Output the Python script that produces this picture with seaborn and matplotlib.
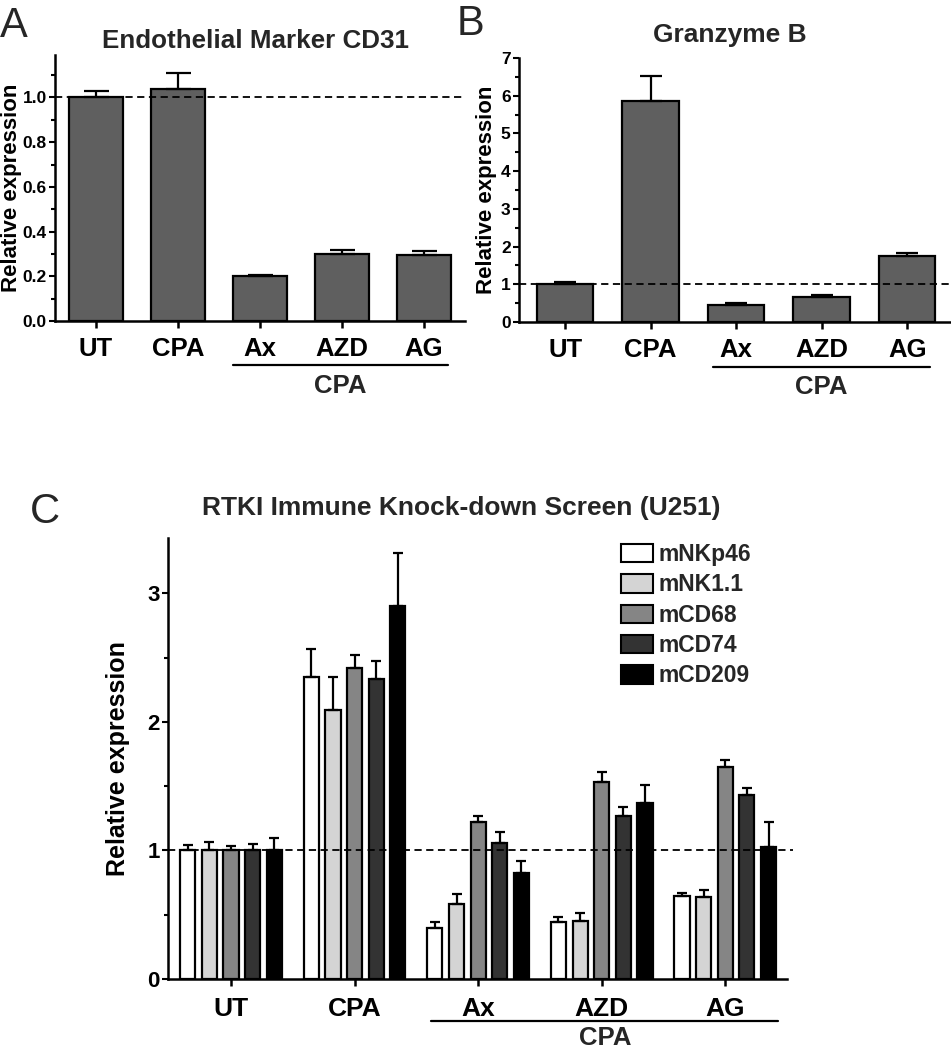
import numpy as np
import pandas as pd
import matplotlib
matplotlib.use('Agg')
import matplotlib.pyplot as plt
import seaborn as sns
from matplotlib.ticker import MultipleLocator, FormatStrFormatter
from matplotlib.patches import Patch
from matplotlib.transforms import blended_transform_factory

GROUPS = ['UT', 'CPA', 'Ax', 'AZD', 'AG']

# A) Endothelial marker CD31
CD31_MEAN = [1.00, 1.04, 0.20, 0.30, 0.295]
CD31_ERR = [0.03, 0.07, 0.005, 0.017, 0.02]

# B) Granzyme B
GZMB_MEAN = [1.00, 5.87, 0.45, 0.66, 1.74]
GZMB_ERR = [0.07, 0.65, 0.06, 0.07, 0.10]

# C) RTKI immune knock-down screen
MARKERS = ['mNKp46', 'mNK1.1', 'mCD68', 'mCD74', 'mCD209']
MNKP46 = [1.00, 2.35, 0.40, 0.44, 0.645]
MNKP46_ERR = [0.045, 0.22, 0.04, 0.045, 0.025]
MNK11 = [1.00, 2.09, 0.58, 0.45, 0.64]
MNK11_ERR = [0.065, 0.26, 0.08, 0.06, 0.05]
MCD68 = [1.00, 2.42, 1.22, 1.53, 1.65]
MCD68_ERR = [0.035, 0.10, 0.05, 0.08, 0.05]
MCD74 = [1.00, 2.33, 1.06, 1.27, 1.43]
MCD74_ERR = [0.05, 0.14, 0.08, 0.07, 0.055]
MCD209 = [1.00, 2.90, 0.825, 1.37, 1.03]
MCD209_ERR = [0.10, 0.41, 0.09, 0.14, 0.19]

BAR_GREY = '#5f5f5f'
MARKER_COLORS = ['#ffffff', '#d4d4d4', '#858585', '#333333', '#000000']

sns.set_theme(style='ticks')
plt.rcParams['font.family'] = ['Liberation Sans', 'DejaVu Sans']
plt.rcParams['font.weight'] = 'bold'

fig = plt.figure(figsize=(9.51, 10.5), dpi=100)
axA = fig.add_axes([0.0578, 0.6943, 0.4311, 0.2533])
axB = fig.add_axes([0.5457, 0.6933, 0.4532, 0.2514])
axC = fig.add_axes([0.1767, 0.0676, 0.6509, 0.4200])


def style_axis(ax, xtick_size, ytick_size, xpad):
    sns.despine(ax=ax)
    for s in ['left', 'bottom']:
        ax.spines[s].set_linewidth(1.8)
        ax.spines[s].set_color('black')
    ax.set_xlabel('')
    ax.tick_params(axis='x', labelsize=xtick_size, length=5, width=1.8, pad=xpad, colors='black')
    ax.tick_params(axis='y', which='major', labelsize=ytick_size, length=4.5, width=1.5, pad=1.5, colors='black')
    ax.tick_params(axis='y', which='minor', length=3, width=1.5, colors='black')
    for lab in ax.get_xticklabels() + ax.get_yticklabels():
        lab.set_fontweight('bold')


def add_cpa_bracket(ax, x0, x1, y_line, y_text, size):
    tr = blended_transform_factory(ax.transData, ax.transAxes)
    ax.plot([x0, x1], [y_line, y_line], transform=tr, clip_on=False, color='black', lw=1.6)
    ax.text((x0 + x1) / 2, y_text, 'CPA', transform=tr, ha='center', va='center',
            fontsize=size, fontweight='bold')


def single_panel(ax, means, errs, title, ymax, major, minor, capsize, title_y, title_size):
    df = pd.DataFrame({'Group': GROUPS, 'Value': means})
    sns.barplot(data=df, x='Group', y='Value', color=BAR_GREY, saturation=1, width=0.66,
                edgecolor='black', linewidth=1.6, errorbar=None, ax=ax)
    bars = ax.containers[0]
    xs = [b.get_x() + b.get_width() / 2 for b in bars]
    hs = [b.get_height() for b in bars]
    ax.errorbar(xs, hs, yerr=[np.zeros(len(errs)), errs], fmt='none', ecolor='black',
                elinewidth=1.6, capsize=capsize, capthick=1.6, zorder=4)
    ax.axhline(1, color='black', ls=(0, (4, 2.5)), lw=1.3, zorder=5)
    ax.set_xlim(-0.5, 4.5)
    ax.set_ylim(0, ymax)
    ax.yaxis.set_major_locator(MultipleLocator(major))
    ax.yaxis.set_minor_locator(MultipleLocator(minor))
    style_axis(ax, 18.5, 12.5, 6.5)
    ax.set_ylabel('Relative expression', fontsize=16, fontweight='bold', color='black')
    ax.text(0.49, title_y, title, transform=ax.transAxes, ha='center', va='center',
            fontsize=title_size, fontweight='bold')


# A
single_panel(axA, CD31_MEAN, CD31_ERR, 'Endothelial Marker CD31', 1.19, 0.2, 0.1, 9, 1.052, 18.7)
axA.yaxis.set_major_formatter(FormatStrFormatter('%.1f'))
axA.yaxis.set_label_coords(-0.08, 0.5)
add_cpa_bracket(axA, 1.67, 4.29, -0.165, -0.243, 18.5)

# B
single_panel(axB, GZMB_MEAN, GZMB_ERR, 'Granzyme B', 7, 1, 0.5, 8, 1.088, 19)
axB.set_xlim(-0.54, 4.5)
axB.yaxis.set_label_coords(-0.05, 0.5)
add_cpa_bracket(axB, 1.73, 4.27, -0.17, -0.248, 18.5)

# C
screen_vals = [MNKP46, MNK11, MCD68, MCD74, MCD209]
screen_errs = [MNKP46_ERR, MNK11_ERR, MCD68_ERR, MCD74_ERR, MCD209_ERR]
rows = []
for m, vals in zip(MARKERS, screen_vals):
    for g, v in zip(GROUPS, vals):
        rows.append({'Group': g, 'Marker': m, 'Value': v})
dfC = pd.DataFrame(rows)
sns.barplot(data=dfC, x='Group', y='Value', hue='Marker', palette=MARKER_COLORS, saturation=1,
            width=0.875, gap=0.3, edgecolor='black', linewidth=1.6, errorbar=None,
            legend=False, ax=axC)
for cont, errs in zip(axC.containers, screen_errs):
    xs = [b.get_x() + b.get_width() / 2 for b in cont]
    hs = [b.get_height() for b in cont]
    axC.errorbar(xs, hs, yerr=[np.zeros(len(errs)), errs], fmt='none', ecolor='black',
                 elinewidth=1.6, capsize=3.6, capthick=1.6, zorder=4)
axC.axhline(1, xmax=1.01, color='black', ls=(0, (4, 2.5)), lw=1.3, zorder=5, clip_on=False)
axC.set_xlim(-0.51, 4.5)
axC.set_ylim(0, 3.43)
axC.yaxis.set_major_locator(MultipleLocator(1))
axC.yaxis.set_minor_locator(MultipleLocator(0.5))
style_axis(axC, 19, 16, 8)
axC.set_ylabel('Relative expression', fontsize=18, fontweight='bold', color='black')
axC.yaxis.set_label_coords(-0.061, 0.5)
axC.text(0.473, 1.068, 'RTKI Immune Knock-down Screen (U251)', transform=axC.transAxes,
         ha='center', va='center', fontsize=19, fontweight='bold')
add_cpa_bracket(axC, 1.62, 4.43, -0.095, -0.134, 18.5)

handles = [Patch(facecolor=c, edgecolor='black', linewidth=1.5, label=m)
           for c, m in zip(MARKER_COLORS, MARKERS)]
fig.legend(handles=handles, loc='upper left', bbox_to_anchor=(621 / 951, 1 - 543 / 1050),
           frameon=False, handlelength=1.4, handleheight=0.85,
           handletextpad=0.25, labelspacing=0.32, borderpad=0, borderaxespad=0,
           prop={'weight': 'bold', 'size': 16.5})

# panel letters
fig.text(0.0, 1 - 6 / 1050, 'A', fontsize=30, fontweight='normal', va='top', ha='left')
fig.text(457 / 951, 1 - 4 / 1050, 'B', fontsize=30, fontweight='normal', va='top', ha='left')
fig.text(30 / 951, 1 - 492 / 1050, 'C', fontsize=30, fontweight='normal', va='top', ha='left')

fig.savefig('out.png', dpi=100)
